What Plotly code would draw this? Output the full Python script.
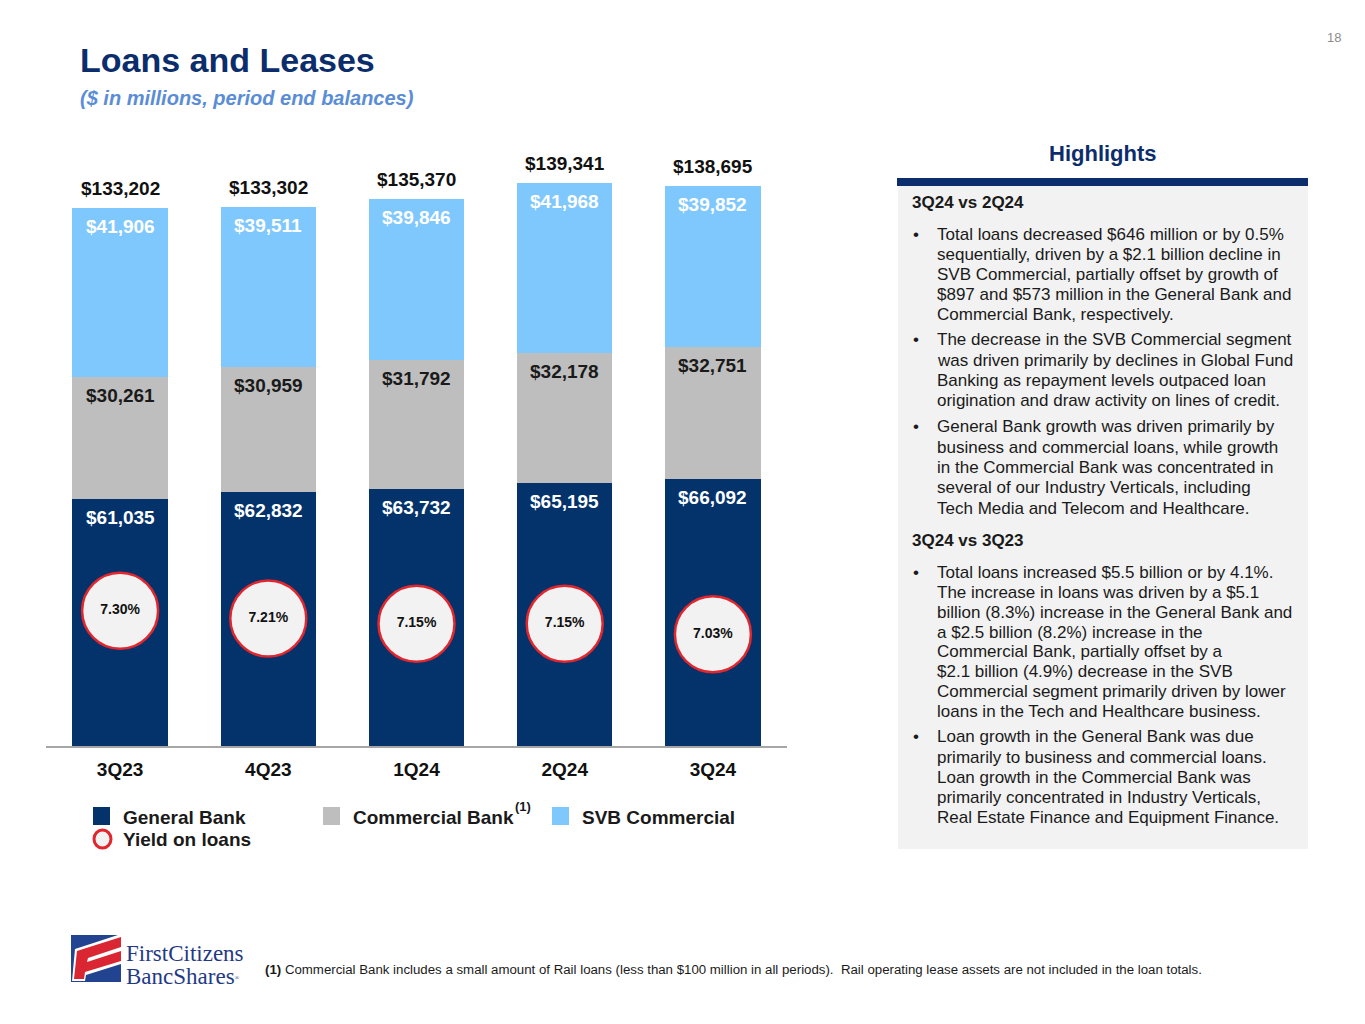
import plotly.graph_objects as go

# ---------------- data ----------------
quarters = ["3Q23", "4Q23", "1Q24", "2Q24", "3Q24"]
general_bank = [61035, 62832, 63732, 65195, 66092]
commercial_bank = [30261, 30959, 31792, 32178, 32751]
svb_commercial = [41906, 39511, 39846, 41968, 39852]
totals = [133202, 133302, 135370, 139341, 138695]
yield_on_loans = [7.30, 7.21, 7.15, 7.15, 7.03]

NAVY = "#04336B"
GRAY = "#BEBEBE"
LBLUE = "#7FC8FD"
RED = "#E2262E"
FONT = "Liberation Sans, Arial, Helvetica, sans-serif"

# page has an 8px body margin; screen coords = layout coords + 8
OFF = 8
W, H = 1349, 1008
L, T = 38, 132
PLOT_RIGHT, PLOT_BOTTOM = 779, 738
R, B = W - PLOT_RIGHT, H - PLOT_BOTTOM
PW, PH = PLOT_RIGHT - L, PLOT_BOTTOM - T


def X(px):
    return (px - OFF - L) / PW


def Y(py):
    return (PLOT_BOTTOM - (py - OFF)) / PH


fig = go.Figure()
fig.add_trace(go.Bar(x=quarters, y=general_bank, marker=dict(color=NAVY, line=dict(width=0)),
                     name="General Bank", hoverinfo="skip"))
fig.add_trace(go.Bar(x=quarters, y=commercial_bank, marker=dict(color=GRAY, line=dict(width=0)),
                     name="Commercial Bank", hoverinfo="skip"))
fig.add_trace(go.Bar(x=quarters, y=svb_commercial, marker=dict(color=LBLUE, line=dict(width=0)),
                     name="SVB Commercial", hoverinfo="skip"))
fig.add_trace(go.Scatter(
    x=quarters, y=yield_on_loans, yaxis="y2", mode="markers+text",
    marker=dict(size=76, color="#F2F2F2", line=dict(color=RED, width=2.5)),
    text=[f"{v:.2f}%" for v in yield_on_loans],
    textposition="middle center",
    textfont=dict(family=FONT, size=14, color="#111111", weight="bold"),
    name="Yield on loans", hoverinfo="skip"))

annotations = []
# segment labels
for i, q in enumerate(quarters):
    g = general_bank[i]
    c = commercial_bank[i]
    s = svb_commercial[i]
    for top, val, col in [(g, g, "white"), (g + c, c, "#1A1A1A"), (g + c + s, s, "white")]:
        annotations.append(dict(x=q, y=top, xref="x", yref="y", text=f"<b>${val:,}</b>",
                                showarrow=False, yanchor="middle", yshift=-18.5,
                                font=dict(family=FONT, size=19, color=col)))
    annotations.append(dict(x=q, y=totals[i], xref="x", yref="y", text=f"<b>${totals[i]:,}</b>",
                            showarrow=False, yanchor="middle", yshift=19.5,
                            font=dict(family=FONT, size=19, color="#111111")))

# title
annotations.append(dict(x=X(78), y=Y(60), xref="paper", yref="paper", xanchor="left", yanchor="middle",
                        text="<b>Loans and Leases</b>", showarrow=False,
                        font=dict(family=FONT, size=34, color="#0B2D6B")))
annotations.append(dict(x=X(78), y=Y(98), xref="paper", yref="paper", xanchor="left", yanchor="middle",
                        text="<b><i>($ in millions, period end balances)</i></b>", showarrow=False,
                        font=dict(family=FONT, size=20, color="#5A8DD6")))
annotations.append(dict(x=X(1334), y=Y(37), xref="paper", yref="paper", xanchor="center", yanchor="middle",
                        text="18", showarrow=False, font=dict(family=FONT, size=13, color="#8C8C8C")))

# legend
leg_font = dict(family=FONT, size=19, color="#1A1A1A")
shapes = []
for x0, col, label in [(93, NAVY, "General Bank"), (323, GRAY, "Commercial Bank"), (552, LBLUE, "SVB Commercial")]:
    shapes.append(dict(type="rect", xref="paper", yref="paper", x0=X(x0), x1=X(x0 + 17), y0=Y(825), y1=Y(807),
                       fillcolor=col, line=dict(width=0)))
    annotations.append(dict(x=X(x0 + 28), y=Y(817), xref="paper", yref="paper", xanchor="left", yanchor="middle",
                            text=f"<b>{label}</b>", showarrow=False, font=leg_font))
annotations.append(dict(x=X(513), y=Y(806), xref="paper", yref="paper", xanchor="left", yanchor="middle",
                        text="<b>(1)</b>", showarrow=False, font=dict(family=FONT, size=13, color="#1A1A1A")))
shapes.append(dict(type="circle", xref="paper", yref="paper", x0=X(94), x1=X(111), y0=Y(848), y1=Y(830),
                   fillcolor="#F2F2F2", line=dict(color=RED, width=3)))
annotations.append(dict(x=X(121), y=Y(839), xref="paper", yref="paper", xanchor="left", yanchor="middle",
                        text="<b>Yield on loans</b>", showarrow=False, font=leg_font))

# highlights panel
shapes.append(dict(type="rect", xref="paper", yref="paper", x0=X(898), x1=X(1308), y0=Y(849), y1=Y(185),
                   fillcolor="#F2F2F2", line=dict(width=0), layer="below"))
shapes.append(dict(type="rect", xref="paper", yref="paper", x0=X(897), x1=X(1308), y0=Y(186), y1=Y(178),
                   fillcolor="#0B2D6B", line=dict(width=0)))
annotations.append(dict(x=X(1103), y=Y(153), xref="paper", yref="paper", xanchor="center", yanchor="middle",
                        text="<b>Highlights</b>", showarrow=False, font=dict(family=FONT, size=22, color="#0B2D6B")))

body_font = dict(family=FONT, size=17, color="#1A1A1A")
panel = [
    ("h", 202.7, "3Q24 vs 2Q24"),
    ("b", 234.3, "Total loans decreased $646 million or by 0.5%"),
    ("t", 254.3, "sequentially, driven by a $2.1 billion decline in"),
    ("t", 274.0, "SVB Commercial, partially offset by growth of"),
    ("t", 294.0, "$897 and $573 million in the General Bank and"),
    ("t", 314.0, "Commercial Bank, respectively."),
    ("b", 339.0, "The decrease in the SVB Commercial segment"),
    ("t", 360.0, "was driven primarily by declines in Global Fund"),
    ("t", 380.0, "Banking as repayment levels outpaced loan"),
    ("t", 400.0, "origination and draw activity on lines of credit."),
    ("b", 426.7, "General Bank growth was driven primarily by"),
    ("t", 447.3, "business and commercial loans, while growth"),
    ("t", 467.7, "in the Commercial Bank was concentrated in"),
    ("t", 487.7, "several of our Industry Verticals, including"),
    ("t", 508.3, "Tech Media and Telecom and Healthcare."),
    ("h", 540.7, "3Q24 vs 3Q23"),
    ("b", 572.3, "Total loans increased $5.5 billion or by 4.1%."),
    ("t", 592.0, "The increase in loans was driven by a $5.1"),
    ("t", 612.0, "billion (8.3%) increase in the General Bank and"),
    ("t", 632.0, "a $2.5 billion (8.2%) increase in the"),
    ("t", 651.7, "Commercial Bank, partially offset by a"),
    ("t", 671.7, "$2.1 billion (4.9%) decrease in the SVB"),
    ("t", 691.7, "Commercial segment primarily driven by lower"),
    ("t", 711.3, "loans in the Tech and Healthcare business."),
    ("b", 736.7, "Loan growth in the General Bank was due"),
    ("t", 757.3, "primarily to business and commercial loans."),
    ("t", 777.3, "Loan growth in the Commercial Bank was"),
    ("t", 797.7, "primarily concentrated in Industry Verticals,"),
    ("t", 817.7, "Real Estate Finance and Equipment Finance."),
]
for kind, yy, txt in panel:
    if kind == "h":
        annotations.append(dict(x=X(910), y=Y(yy), xref="paper", yref="paper", xanchor="left", yanchor="middle",
                                text=f"<b>{txt}</b>", showarrow=False, font=body_font))
        continue
    if kind == "b":
        annotations.append(dict(x=X(911), y=Y(yy), xref="paper", yref="paper", xanchor="left", yanchor="middle",
                                text="•", showarrow=False, font=body_font))
    annotations.append(dict(x=X(935), y=Y(yy), xref="paper", yref="paper", xanchor="left", yanchor="middle",
                            text=txt, showarrow=False, font=body_font))

# footnote
annotations.append(dict(x=X(263), y=Y(969), xref="paper", yref="paper", xanchor="left", yanchor="middle",
                        text="<b>(1)</b> Commercial Bank includes a small amount of Rail loans (less than $100 million in all periods).  Rail operating lease assets are not included in the loan totals.",
                        showarrow=False, font=dict(family=FONT, size=13.25, color="#1A1A1A")))

# logo
def path(pts):
    d = "M " + " L ".join(f"{X(a)},{Y(b)}" for a, b in pts) + " Z"
    return dict(type="path", xref="paper", yref="paper", path=d, line=dict(width=0))

shapes.append(dict(type="rect", xref="paper", yref="paper", x0=X(71), x1=X(121), y0=Y(982), y1=Y(935),
                   fillcolor="#22438F", line=dict(width=0)))
s = path([(75, 949), (121, 934), (121, 964), (86, 975), (85, 981), (72, 981)]); s["fillcolor"] = "white"; shapes.append(s)
s = path([(77, 951), (121, 937), (121, 947), (88, 958), (87, 962), (121, 951), (121, 961), (85, 972), (84, 979), (74, 979)]); s["fillcolor"] = "#D92632"; shapes.append(s)
serif = "Liberation Serif, Times New Roman, serif"
annotations.append(dict(x=X(124), y=Y(953), xref="paper", yref="paper", xanchor="left", yanchor="middle",
                        text="FirstCitizens", showarrow=False,
                        font=dict(family=serif, size=23, color="#1F3A85")))
annotations.append(dict(x=X(124), y=Y(976), xref="paper", yref="paper", xanchor="left", yanchor="middle",
                        text="BancShares<span style='font-size:9px'><sup>®</sup></span>", showarrow=False,
                        font=dict(family=serif, size=23, color="#1F3A85")))

fig.update_layout(
    width=W, height=H, margin=dict(l=L, r=R, t=T, b=B, pad=0),
    paper_bgcolor="white", plot_bgcolor="white",
    barmode="stack", bargap=0.357, showlegend=False,
    font=dict(family=FONT),
    xaxis=dict(type="category", range=[-0.5, 4.5], showline=True, linecolor="#A6A6A6", linewidth=1.5,
               showgrid=False, zeroline=False, ticks="", ticklabelstandoff=5,
               tickfont=dict(family=FONT, size=19, color="#111111", weight="bold"), fixedrange=True),
    yaxis=dict(range=[0, 150000], visible=False, showgrid=False, zeroline=False, fixedrange=True),
    yaxis2=dict(range=[5.743, 12.717], overlaying="y", visible=False, showgrid=False, zeroline=False),
    annotations=annotations, shapes=shapes,
)

fig.write_html("out.html")
